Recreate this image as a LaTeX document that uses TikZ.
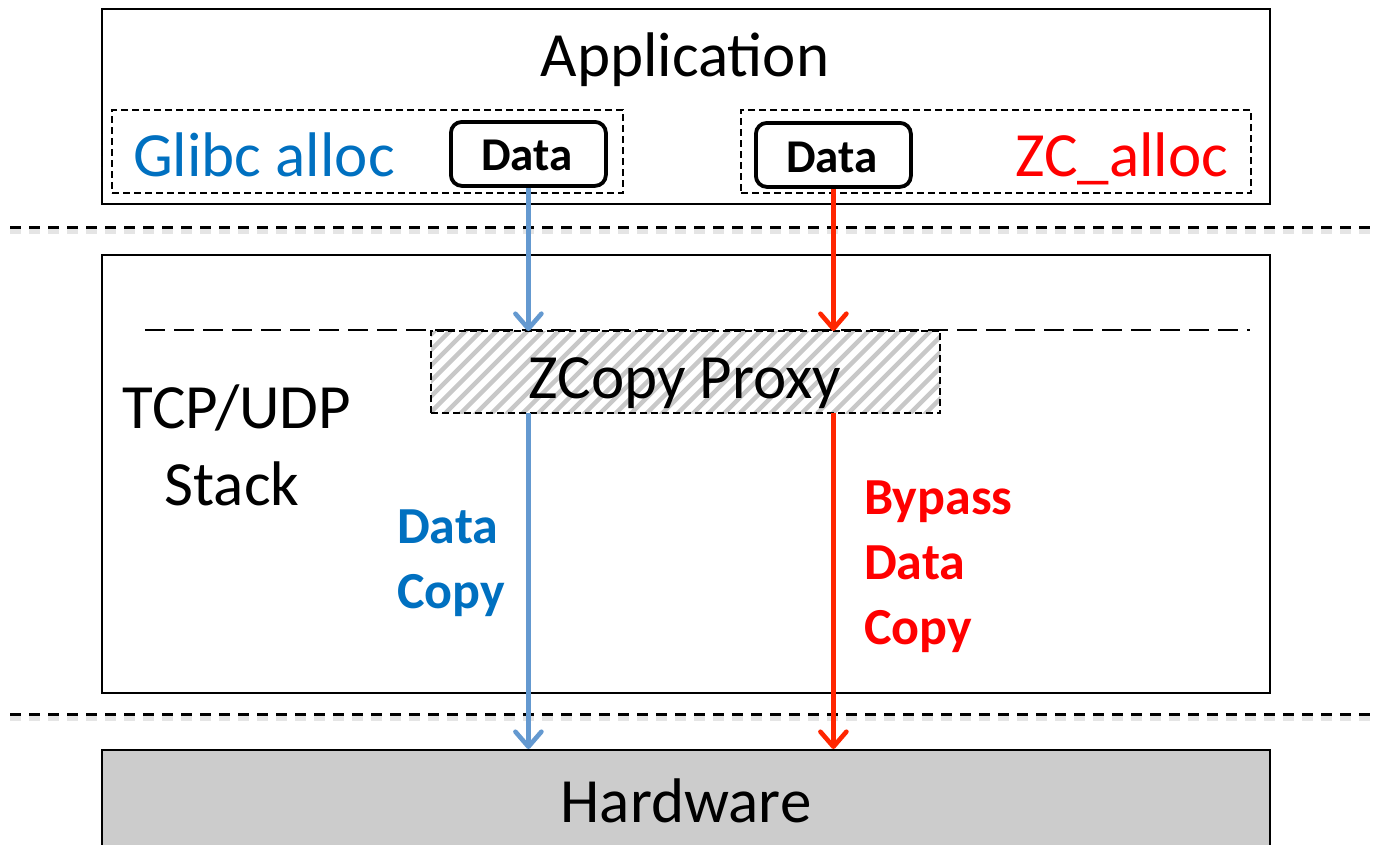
\documentclass[tikz,border=0pt]{standalone}
\usepackage{fontspec}
\setmainfont{Carlito}
\usetikzlibrary{arrows.meta,calc}
\definecolor{bluetxt}{RGB}{0,112,192}
\definecolor{bluearr}{RGB}{100,153,208}
\definecolor{redarr}{RGB}{255,38,0}
\definecolor{redtxt}{RGB}{255,0,0}
\definecolor{hwgray}{RGB}{204,204,204}
\definecolor{hatchgray}{RGB}{200,200,200}
\begin{document}
\begin{tikzpicture}[x=1pt,y=-1pt,
  big/.style={font=\fontsize{63}{76}\selectfont, inner sep=0pt, anchor=base},
  lbl/.style={font=\fontsize{52}{65}\selectfont\bfseries, inner sep=0pt, anchor=base west},
  frame/.style={draw=black, line width=2pt, anchor=north west, inner sep=0pt},
  allocbox/.style={draw=black, line width=2pt, dash pattern=on 7pt off 4pt, anchor=north west, inner sep=0pt},
  databox/.style={draw=black, line width=3.8pt, rounded corners=11pt, anchor=north west, inner sep=0pt, minimum width=155pt, minimum height=64pt},
  datatext/.style={font=\fontsize{47}{56}\selectfont\bfseries, inner sep=0pt, anchor=base},
  sepline/.style={line width=3pt, dash pattern=on 11pt off 8pt},
  sepshadow/.style={line width=7pt, dash pattern=on 11pt off 8pt, black, opacity=0.10},
  flow/.style={line width=4.6pt, -{Straight Barb[length=15pt,width=26pt,round]}},
]
\useasboundingbox (0,0) rectangle (1373,844);
\fill[white] (0,0) rectangle (1373,844);

% boxes
\node[frame, minimum width=1168pt, minimum height=195pt] (app) at (101,8) {};
\node[frame, minimum width=1168pt, minimum height=438pt] (stack) at (101,254) {};
\node[frame, fill=hwgray, minimum width=1168pt, minimum height=110pt] (hw) at (101,749) {};

\node[allocbox, minimum width=511pt, minimum height=83pt] (glibcbox) at (111,109) {};
\node[allocbox, minimum width=510pt, minimum height=83pt] (zcbox) at (740,109) {};

\node[databox] (dataL) at (449,120) {};
\node[databox] (dataR) at (754,121) {};

% proxy (hatched)
\node[anchor=north west, inner sep=0pt, minimum width=509pt, minimum height=82pt] (proxy) at (431,331) {};
\begin{scope}
  \clip (proxy.south west) rectangle (proxy.north east);
  \foreach \i in {0,...,42} {
    \draw[hatchgray, line width=4.5pt] (330+\i*15.5,420) -- ++(100,-100);
  }
\end{scope}
\draw[line width=2pt, dash pattern=on 7pt off 4pt] (proxy.south west) rectangle (proxy.north east);

% separators
\coordinate (s1a) at (10,227);
\coordinate (s1b) at (1373,227);
\coordinate (s2a) at (10,714);
\coordinate (s2b) at (1373,714);
\draw[sepshadow] ($(s1a)+(0,3)$) -- ($(s1b)+(0,3)$);
\draw[sepshadow] ($(s2a)+(0,3)$) -- ($(s2b)+(0,3)$);
\draw[sepline] (s1a) -- (s1b);
\draw[sepline] (s2a) -- (s2b);

\coordinate (la) at (145,330);
\coordinate (lb) at (1250,330);
\draw[line width=2.4pt, dash pattern=on 20pt off 9pt] (la) -- (lb);

% arrows
\draw[flow, bluearr] (dataL.south) -- (dataL.south |- proxy.north);
\draw[flow, redarr] (dataR.south) -- (dataR.south |- proxy.north);
\draw[flow, bluearr] (dataL.south |- proxy.south) -- (dataL.south |- hw.north);
\draw[flow, redarr] (dataR.south |- proxy.south) -- (dataR.south |- hw.north);

% texts
\node[big] (apptext) at (685,76) {Application};
\node[big, text=bluetxt] (glibctext) at (264,176) {Glibc alloc};
\node[big, text=redtxt] (zctext) at (1122,176) {ZC\_alloc};
\node[datatext] (dLt) at (527,170) {Data};
\node[datatext] (dRt) at (832,172) {Data};
\node[big] (proxytext) at (685,398) {ZCopy Proxy};
\node[big] (tcptext) at (237,428) {TCP/UDP};
\node[big] (stacktext) at (232,505) {Stack};
\node[lbl, text=bluetxt] (dc1) at (397,543) {Data};
\node[lbl, text=bluetxt] (dc2) at (397,608) {Copy};
\node[lbl, text=redtxt] (bp1) at (864,514) {Bypass};
\node[lbl, text=redtxt] (bp2) at (864,579) {Data};
\node[lbl, text=redtxt] (bp3) at (864,644) {Copy};
\node[big] (hwtext) at (686,822) {Hardware};
\end{tikzpicture}
\end{document}
